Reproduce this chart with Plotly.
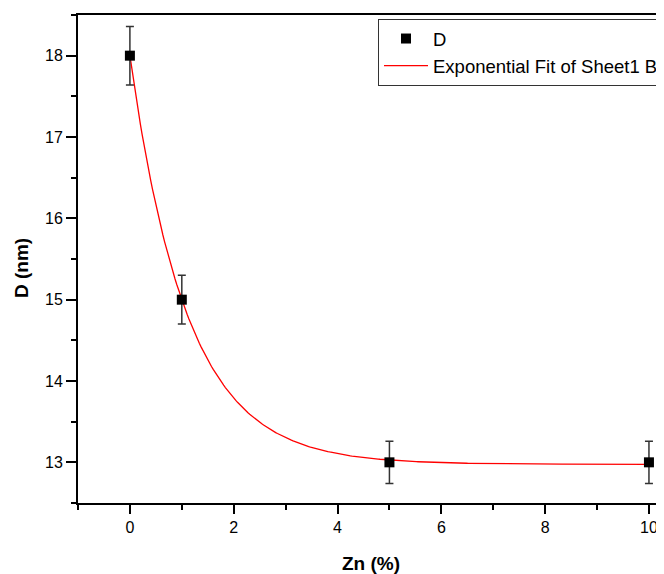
import numpy as np
import plotly.graph_objects as go

# Data
zn = [0, 1, 5, 10]
d_nm = [18.0, 15.0, 13.0, 13.0]
d_err = [0.36, 0.30, 0.26, 0.26]

# Exponential fit parameters (y = y0 + A*exp(-x/t))
fit_y0 = 12.975
fit_A = 5.025
fit_t = 1.10

x_ticks = [0, 2, 4, 6, 8, 10]
y_ticks = [13, 14, 15, 16, 17, 18]

fx = np.linspace(0, 10, 300)
fy = fit_y0 + fit_A * np.exp(-fx / fit_t)

FONT = "Liberation Sans, Arial, sans-serif"

# page body has an 8px default margin; figure sized/placed to compensate
W, H = 656, 566
ML, MT, MB, MR = 70, 7, 71, 0
PW = W - ML - MR
PH = H - MT - MB

fig = go.Figure()
fig.add_trace(go.Scatter(
    x=fx, y=fy, mode="lines", name="Exponential Fit of Sheet1 B",
    line=dict(color="red", width=1.3),
))
fig.add_trace(go.Scatter(
    x=zn, y=d_nm, mode="markers", name="D",
    marker=dict(symbol="square", size=10, color="black"),
    error_y=dict(type="data", array=d_err, visible=True, color="#333333",
                 thickness=1.5, width=4),
))

fig.update_layout(
    width=W, height=H,
    margin=dict(l=ML, r=MR, t=MT, b=MB, autoexpand=False),
    paper_bgcolor="white", plot_bgcolor="white",
    font=dict(family=FONT, color="black"),
    showlegend=True,
    legend=dict(
        x=(370 - ML) / PW, y=1 - (11 - MT) / PH, xanchor="left", yanchor="top",
        bordercolor="#333333", borderwidth=1, bgcolor="white",
        font=dict(family=FONT, size=18.5, color="black"),
        traceorder="reversed",
        tracegroupgap=0,
        itemwidth=44,
    ),
    xaxis=dict(
        range=[-1, 10.29], tickmode="array", tickvals=x_ticks,
        ticks="outside", ticklen=9, tickwidth=2, tickcolor="black",
        minor=dict(dtick=1, tick0=0, ticks="outside", ticklen=5, tickwidth=2, tickcolor="black"),
        showline=True, linewidth=2, linecolor="black", mirror=True,
        showgrid=False, zeroline=False,
        tickfont=dict(family=FONT, size=16),
        title=dict(text="<b>Zn (%)</b>", font=dict(family=FONT, size=19), standoff=21),
    ),
    yaxis=dict(
        range=[12.5, 18.5], tickmode="array", tickvals=y_ticks,
        ticks="outside", ticklen=10, tickwidth=2, tickcolor="black",
        minor=dict(dtick=0.5, tick0=12.5, ticks="outside", ticklen=5, tickwidth=2, tickcolor="black"),
        showline=True, linewidth=2, linecolor="black", mirror=False,
        showgrid=False, zeroline=False,
        tickfont=dict(family=FONT, size=16),
    ),
    annotations=[dict(
        text="<b>D (nm)</b>", textangle=-90, xref="paper", yref="paper",
        x=(13 - ML) / PW, y=1 - (260 - MT) / PH, xanchor="center", yanchor="middle",
        showarrow=False, font=dict(family=FONT, size=19, color="black"),
    )],
)

fig.write_html("out.html")
